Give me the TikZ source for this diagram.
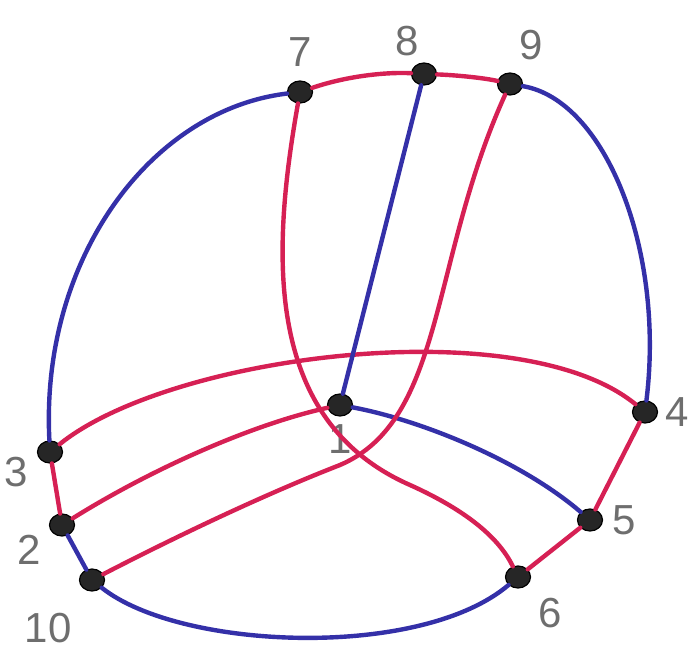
\documentclass[tikz,border=0pt]{standalone}
\usepackage{fontspec}
\setmainfont{Liberation Sans}
\usetikzlibrary{shapes.geometric,positioning}
\definecolor{penred}{RGB}{214,32,84}
\definecolor{penblue}{RGB}{52,48,168}
\definecolor{pencil}{RGB}{110,110,110}

\begin{document}
\begin{tikzpicture}[x=1pt,y=-1pt,
  vtx/.style={ellipse,fill=black!85,draw=black,line width=1.2pt,minimum width=25pt,minimum height=22pt,inner sep=0pt},
  lbl/.style={text=pencil,font=\fontsize{42}{44}\selectfont},
  redge/.style={draw=penred,line width=4.4pt,line cap=round},
  bedge/.style={draw=penblue,line width=4.4pt,line cap=round}]
  \useasboundingbox (0,0) rectangle (690,660);

  \node[vtx,label={[lbl,label distance=10pt]above:7}] (n7) at (300,92) {};
  \node[vtx,label={[lbl,label distance=3pt]95:8}] (n8) at (424,74) {};
  \node[vtx,label={[lbl,label distance=10pt]75:9}] (n9) at (510,84) {};
  \node[vtx,label={[lbl,label distance=6pt]-176:3}] (n3) at (50,452) {};
  \node[vtx,label={[lbl,label distance=6pt]-158:2}] (n2) at (62,525) {};
  \node[vtx,label={[lbl,label distance=22pt]-120:10}] (n10) at (92,580) {};
  \node[vtx,label={[lbl,label distance=4pt]below:1}] (n1) at (340,405) {};
  \node[vtx,label={[lbl,label distance=4pt]right:4}] (n4) at (645,412) {};
  \node[vtx,label={[lbl,label distance=6pt]right:5}] (n5) at (590,520) {};
  \node[vtx,label={[lbl,label distance=12pt]-45:6}] (n6) at (518,577) {};

  % outer ring
  \draw[bedge] (n7) .. controls (150,110) and (40,260) .. (n3);
  \draw[redge] (n7) .. controls (350,75) and (390,72) .. (n8);
  \draw[redge] (n8) .. controls (455,75) and (485,78) .. (n9);
  \draw[bedge] (n9) .. controls (605,100) and (665,250) .. (n4);
  \draw[redge] (n4) -- (n5);
  \draw[redge] (n5) -- (n6);
  \draw[bedge] (n6) .. controls (420,660) and (180,650) .. (n10);
  \draw[bedge] (n10) -- (n2);
  \draw[redge] (n2) -- (n3);

  % inner edges
  \draw[redge] (n3) .. controls (170,355) and (520,310) .. (n4);
  \draw[bedge] (n8) -- (n1);
  \draw[redge] (n2) .. controls (150,470) and (250,425) .. (n1);
  \draw[bedge] (n1) .. controls (420,420) and (520,460) .. (n5);
  \draw[redge] (n7) .. controls (272,250) and (262,420) .. (410,485)
    .. controls (470,512) and (500,540) .. (n6);
  \draw[redge] (n9) .. controls (430,260) and (445,420) .. (340,465)
    .. controls (250,500) and (150,550) .. (n10);
\end{tikzpicture}
\end{document}
